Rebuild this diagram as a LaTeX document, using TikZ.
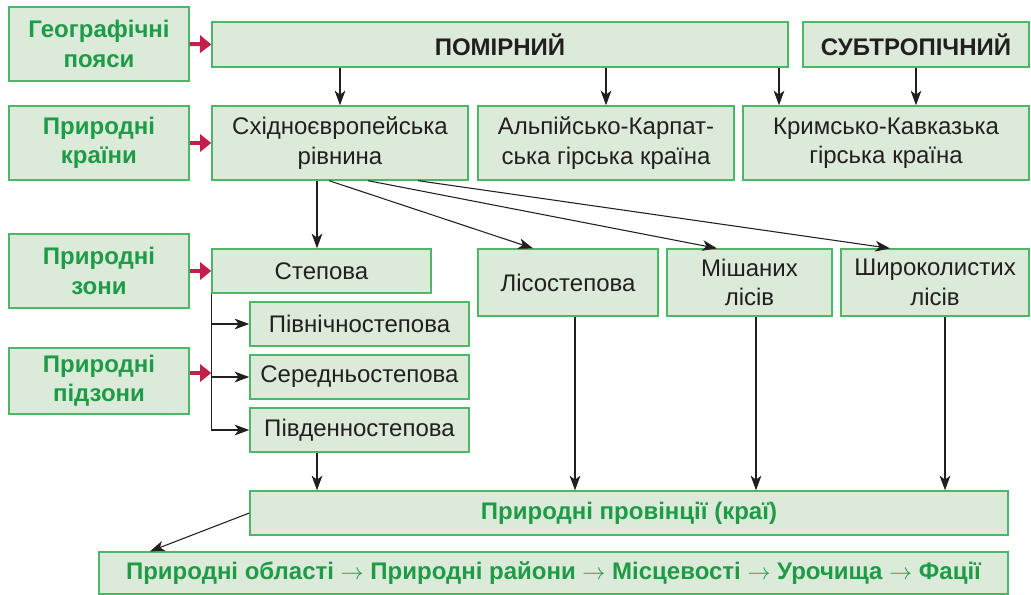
\documentclass[tikz,border=0pt]{standalone}
\usepackage{fontspec}
\setmainfont{Liberation Sans}
\usetikzlibrary{arrows.meta,calc}
\definecolor{boxfill}{HTML}{DCEBD9}
\definecolor{boxline}{HTML}{4DB768}
\definecolor{gtext}{HTML}{1E9B47}
\definecolor{redarr}{HTML}{C21F4B}
\definecolor{dtext}{HTML}{231F20}
\newcommand\bx[7]{\node[#1, minimum width={(#5-#3)*0.75pt}, minimum height={(#6-#4)*0.75pt}] (#2) at ({(#3+#5)/2},{(#4+#6)/2}) {#7};}
\begin{document}
\begin{tikzpicture}[x=0.75pt,y=-0.75pt,
  box/.style={draw=boxline, fill=boxfill, line width=1pt, inner sep=0pt, align=center},
  lbl/.style={box, text=gtext, font=\fontsize{18}{22}\selectfont\bfseries},
  hdr/.style={box, text=dtext, font=\fontsize{18}{22}\selectfont\bfseries},
  txt/.style={box, text=dtext, font=\fontsize{18}{22}\selectfont},
  arr/.style={-{Stealth[length=11pt,width=8pt,inset=3pt]}, line width=1.2pt, draw=dtext},
  darr/.style={-{Stealth[length=11pt,width=8pt,inset=3pt]}, line width=0.8pt, draw=dtext},
  rarr/.style={-{Triangle[length=8.5pt,width=13pt]}, line width=3pt, draw=redarr}]
\useasboundingbox (0,0) rectangle (1031,594);
% left labels
\bx{lbl}{geo}{9}{7}{189}{81}{Географічні\\пояси}
\bx{lbl}{kra}{9}{106}{189}{180}{Природні\\країни}
\bx{lbl}{zon}{9}{234}{189}{308}{Природні\\зони}
\bx{lbl}{pidz}{9}{348}{189}{414}{Природні\\підзони}
% belts
\bx{hdr}{pom}{212}{22}{788}{67}{ПОМІРНИЙ}
\bx{hdr}{sub}{803}{22}{1029}{67}{СУБТРОПІЧНИЙ}
% countries
\bx{txt}{sxid}{212}{106}{468}{180}{Східноєвропейська\\рівнина}
\bx{txt}{alp}{478}{106}{734}{180}{Альпійсько-Карпат-\\ська гірська країна}
\bx{txt}{krym}{743}{106}{1029}{180}{Кримсько-Кавказька\\гірська країна}
% zones
\bx{txt}{stp}{212}{249}{431}{293}{Степова}
\bx{txt}{pivn}{250}{302}{469}{346}{Північностепова}
\bx{txt}{ser}{250}{355}{469}{399}{Середньостепова}
\bx{txt}{pivd}{250}{408}{469}{452}{Південностепова}
\bx{txt}{lis}{478}{249}{658}{316}{Лісостепова}
\bx{txt}{mish}{667}{249}{832}{316}{Мішаних\\лісів}
\bx{txt}{shyr}{841}{249}{1029}{316}{Широколистих\\лісів}
% provinces
\bx{lbl}{prov}{250}{491}{1008}{535}{Природні провінції (краї)}
\bx{lbl}{bot}{99}{552}{1008}{594}{Природні області $\rightarrow$ Природні райони $\rightarrow$ Місцевості $\rightarrow$ Урочища $\rightarrow$ Фації}
% red arrows
\draw[rarr] (geo.east) -- (pom.west);
\draw[rarr] (kra.east) -- (sxid.west);
\draw[rarr] (zon.east) -- (stp.west);
\draw[rarr] (pidz.east |- 0,373) -- (stp.south west |- 0,373);
% belt -> country
\draw[arr] (pom.south -| sxid.north) -- (sxid.north);
\draw[arr] (pom.south -| alp.north) -- (alp.north);
\draw[arr] (pom.south -| 779,0) -- (krym.north -| 779,0);
\draw[arr] (sub.south) -- (sub.south |- krym.north);
% country -> zones
\draw[arr] (sxid.south -| 317,0) -- (stp.north -| 317,0);
\draw[darr] (sxid.south -| 329,0) -- (lis.north -| 533,0);
\draw[darr] (sxid.south -| 368,0) -- (mish.north -| 717,0);
\draw[darr] (sxid.south -| 418,0) -- (shyr.north -| 890,0);
% subzones
\draw[line width=1.2pt, draw=dtext] (stp.south west) -- (stp.south west |- pivd.west);
\draw[arr] (stp.south west |- pivn.west) -- (pivn.west);
\draw[arr] (stp.south west |- ser.west) -- (ser.west);
\draw[arr] (stp.south west |- pivd.west) -- (pivd.west);
% zones -> provinces
\draw[arr] (pivd.south -| 317,0) -- (prov.north -| 317,0);
\draw[arr] (lis.south -| 575,0) -- (prov.north -| 575,0);
\draw[arr] (mish.south -| 756,0) -- (prov.north -| 756,0);
\draw[arr] (shyr.south -| 945,0) -- (prov.north -| 945,0);
\draw[darr] (prov.west) -- (bot.north -| 150,0);
\end{tikzpicture}
\end{document}
